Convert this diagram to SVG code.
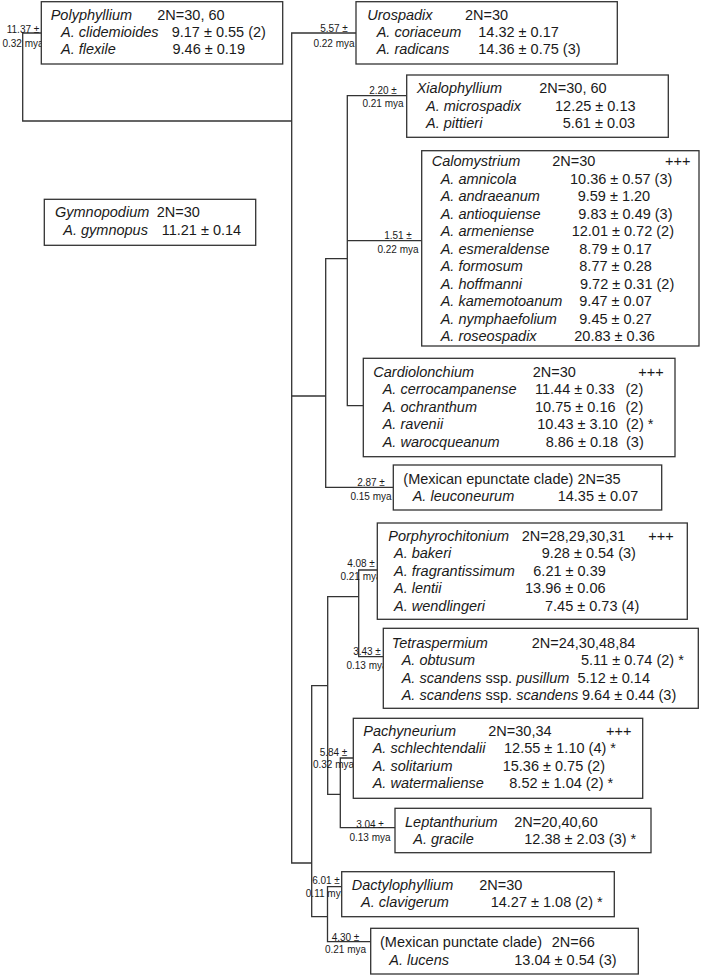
<svg xmlns="http://www.w3.org/2000/svg" width="702" height="976" viewBox="0 0 702 976">
<style>
.bg{fill:#fff}
.box{fill:#fff;stroke:#333;stroke-width:1.3}
.ln{fill:none;stroke:#333;stroke-width:1.3}
text{font-family:"Liberation Sans",Arial,sans-serif;fill:#1a1a1a}
.i{font-size:14.5px;font-style:italic}
.r{font-size:14.5px}
.lab{font-size:10px;text-anchor:middle}
.n{font-style:normal}
</style>
<rect class="bg" x="0" y="0" width="702" height="976"/>
<g id="connectors">
<path class="ln" d="M41.3,33H22.7V121H291.7"/>
<path class="ln" d="M356,33H291.7V863H311.7"/>
<path class="ln" d="M291.7,396H325.7"/>
<path class="ln" d="M347.3,258.7H325.7V487.3H393.3"/>
<path class="ln" d="M406.7,95.7H347.3V405.7H363.3"/>
<path class="ln" d="M347.3,240.7H421.7"/>
<path class="ln" d="M327.7,685.7H311.7V916.7H327.5"/>
<path class="ln" d="M358.7,596.7H327.7V794.3H340.3"/>
<path class="ln" d="M377.3,570H358.7V656.7H383.3"/>
<path class="ln" d="M353.3,758H340.3V827.7H395"/>
<path class="ln" d="M341.7,886.7H327.5V941.7H370.7"/>
</g>
<g id="labels">
<text class="lab" x="23" y="33">11.37 ±</text><text class="lab" x="23" y="47">0.32 mya</text>
<text class="lab" x="334" y="32">5.57 ±</text><text class="lab" x="334" y="47">0.22 mya</text>
<text class="lab" x="383" y="94">2.20 ±</text><text class="lab" x="383" y="107">0.21 mya</text>
<text class="lab" x="398" y="239">1.51 ±</text><text class="lab" x="398" y="253">0.22 mya</text>
<text class="lab" x="371" y="485.5">2.87 ±</text><text class="lab" x="371" y="500">0.15 mya</text>
<text class="lab" x="361" y="567">4.08 ±</text><text class="lab" x="361" y="580">0.21 mya</text>
<text class="lab" x="367" y="655">3.43 ±</text><text class="lab" x="367" y="669">0.13 mya</text>
<text class="lab" x="333.5" y="756">5.84 ±</text><text class="lab" x="333.5" y="768">0.32 mya</text>
<text class="lab" x="370" y="828">3.04 ±</text><text class="lab" x="370" y="840.5">0.13 mya</text>
<text class="lab" x="326" y="884">6.01 ±</text><text class="lab" x="326" y="897">0.11 mya</text>
<text class="lab" x="345.5" y="940.5">4.30 ±</text><text class="lab" x="345.5" y="953">0.21 mya</text>
</g>
<g id="polyphyllium">
<rect class="box" x="41.3" y="1.7" width="241.4" height="62.3"/>
<text class="i" x="50.7" y="20">Polyphyllium</text><text class="r" x="157.3" y="20">2N=30, 60</text>
<text class="i" x="61" y="37.3">A. clidemioides</text><text class="r" x="171.7" y="37.3">9.17 ± 0.55 (2)</text>
<text class="i" x="61" y="54.3">A. flexile</text><text class="r" x="172.5" y="54.3">9.46 ± 0.19</text>
</g>
<g id="urospadix">
<rect class="box" x="356" y="1.7" width="261.3" height="62.3"/>
<text class="i" x="367.3" y="20">Urospadix</text><text class="r" x="465" y="20">2N=30</text>
<text class="i" x="376.7" y="37.3">A. coriaceum</text><text class="r" x="478.3" y="37.3">14.32 ± 0.17</text>
<text class="i" x="376.7" y="54.3">A. radicans</text><text class="r" x="478.3" y="54.3">14.36 ± 0.75 (3)</text>
</g>
<g id="xialophyllium">
<rect class="box" x="406.7" y="75" width="261.6" height="62.3"/>
<text class="i" x="416.7" y="93.3">Xialophyllium</text><text class="r" x="539.3" y="93.3">2N=30, 60</text>
<text class="i" x="426" y="110.7">A. microspadix</text><text class="r" x="555" y="110.7">12.25 ± 0.13</text>
<text class="i" x="426" y="128">A. pittieri</text><text class="r" x="562.7" y="128">5.61 ± 0.03</text>
</g>
<g id="gymnopodium">
<rect class="box" x="44.3" y="199.3" width="211.4" height="46"/>
<text class="i" x="55" y="216.7">Gymnopodium</text><text class="r" x="156.7" y="216.7">2N=30</text>
<text class="i" x="63.3" y="235">A. gymnopus</text><text class="r" x="161.7" y="235">11.21 ± 0.14</text>
</g>
<g id="calomystrium">
<rect class="box" x="421.7" y="150.7" width="277.3" height="195.3"/>
<text class="i" x="431.7" y="166">Calomystrium</text><text class="r" x="552.3" y="166">2N=30</text><text class="r" x="665" y="166">+++</text>
<text class="i" x="440.7" y="183.5">A. amnicola</text><text class="r" x="570" y="183.5">10.36 ± 0.57 (3)</text>
<text class="i" x="440.7" y="201">A. andraeanum</text><text class="r" x="577.7" y="201">9.59 ± 1.20</text>
<text class="i" x="440.7" y="218.5">A. antioquiense</text><text class="r" x="578.3" y="218.5">9.83 ± 0.49 (3)</text>
<text class="i" x="440.7" y="236">A. armeniense</text><text class="r" x="571.7" y="236">12.01 ± 0.72 (2)</text>
<text class="i" x="440.7" y="253.5">A. esmeraldense</text><text class="r" x="579.3" y="253.5">8.79 ± 0.17</text>
<text class="i" x="440.7" y="271">A. formosum</text><text class="r" x="579.3" y="271">8.77 ± 0.28</text>
<text class="i" x="440.7" y="288.5">A. hoffmanni</text><text class="r" x="580" y="288.5">9.72 ± 0.31 (2)</text>
<text class="i" x="440.7" y="306">A. kamemotoanum</text><text class="r" x="579.3" y="306">9.47 ± 0.07</text>
<text class="i" x="440.7" y="323.5">A. nymphaefolium</text><text class="r" x="579.3" y="323.5">9.45 ± 0.27</text>
<text class="i" x="440.7" y="341">A. roseospadix</text><text class="r" x="574.3" y="341">20.83 ± 0.36</text>
</g>
<g id="cardiolonchium">
<rect class="box" x="363.3" y="358.3" width="311.7" height="98.4"/>
<text class="i" x="373.3" y="376.7">Cardiolonchium</text><text class="r" x="532.7" y="376.7">2N=30</text><text class="r" x="638.3" y="376.7">+++</text>
<text class="i" x="382.7" y="394.2">A. cerrocampanense</text><text class="r" x="535" y="394.2">11.44 ± 0.33</text><text class="r" x="625.5" y="394.2">(2)</text>
<text class="i" x="382.7" y="411.7">A. ochranthum</text><text class="r" x="535" y="411.7">10.75 ± 0.16</text><text class="r" x="625.5" y="411.7">(2)</text>
<text class="i" x="382.7" y="429.2">A. ravenii</text><text class="r" x="537.3" y="429.2">10.43 ± 3.10</text><text class="r" x="626" y="429.2">(2) *</text>
<text class="i" x="382.7" y="446.7">A. warocqueanum</text><text class="r" x="545.7" y="446.7">8.86 ± 0.18</text><text class="r" x="626" y="446.7">(3)</text>
</g>
<g id="mexican-epunctate">
<rect class="box" x="393.3" y="465" width="268.4" height="45"/>
<text class="r" x="403.3" y="484.3">(Mexican epunctate clade) 2N=35</text>
<text class="i" x="412.7" y="501">A. leuconeurum</text><text class="r" x="557.7" y="501">14.35 ± 0.07</text>
</g>
<g id="porphyrochitonium">
<rect class="box" x="377.3" y="523" width="310" height="96.3"/>
<text class="i" x="388.3" y="540.7">Porphyrochitonium</text><text class="r" x="521.7" y="540.7">2N=28,29,30,31</text><text class="r" x="648.3" y="540.7">+++</text>
<text class="i" x="394" y="558.2">A. bakeri</text><text class="r" x="541.7" y="558.2">9.28 ± 0.54 (3)</text>
<text class="i" x="394" y="575.7">A. fragrantissimum</text><text class="r" x="533.3" y="575.7">6.21 ± 0.39</text>
<text class="i" x="394" y="593.1">A. lentii</text><text class="r" x="525" y="593.1">13.96 ± 0.06</text>
<text class="i" x="394" y="610.5">A. wendlingeri</text><text class="r" x="545" y="610.5">7.45 ± 0.73 (4)</text>
</g>
<g id="tetraspermium">
<rect class="box" x="383.3" y="628.3" width="315" height="80"/>
<text class="i" x="391.7" y="647.7">Tetraspermium</text><text class="r" x="531.7" y="647.7">2N=24,30,48,84</text>
<text class="i" x="401.7" y="665.2">A. obtusum</text><text class="r" x="581" y="665.2">5.11 ± 0.74 (2) *</text>
<text class="i" x="401.7" y="682.5">A. scandens<tspan class="n"> ssp. </tspan>pusillum</text><text class="r" x="577.5" y="682.5">5.12 ± 0.14</text>
<text class="i" x="401.7" y="700">A. scandens<tspan class="n"> ssp. </tspan>scandens</text><text class="r" x="582" y="700">9.64 ± 0.44 (3)</text>
</g>
<g id="pachyneurium">
<rect class="box" x="353.3" y="718.3" width="289.4" height="80"/>
<text class="i" x="363.3" y="736">Pachyneurium</text><text class="r" x="488.3" y="736">2N=30,34</text><text class="r" x="606" y="736">+++</text>
<text class="i" x="372.7" y="753.3">A. schlechtendalii</text><text class="r" x="504" y="753.3">12.55 ± 1.10 (4) *</text>
<text class="i" x="372.7" y="770.8">A. solitarium</text><text class="r" x="502.7" y="770.8">15.36 ± 0.75 (2)</text>
<text class="i" x="372.7" y="788.3">A. watermaliense</text><text class="r" x="509.3" y="788.3">8.52 ± 1.04 (2) *</text>
</g>
<g id="leptanthurium">
<rect class="box" x="395" y="808.3" width="256" height="44.4"/>
<text class="i" x="405" y="826.7">Leptanthurium</text><text class="r" x="514.3" y="826.7">2N=20,40,60</text>
<text class="i" x="413.3" y="844">A. gracile</text><text class="r" x="524.3" y="844">12.38 ± 2.03 (3) *</text>
</g>
<g id="dactylophyllium">
<rect class="box" x="341.7" y="871.7" width="272.6" height="45"/>
<text class="i" x="351.7" y="890">Dactylophyllium</text><text class="r" x="479.3" y="890">2N=30</text>
<text class="i" x="361" y="907.3">A. clavigerum</text><text class="r" x="490.7" y="907.3">14.27 ± 1.08 (2) *</text>
</g>
<g id="mexican-punctate">
<rect class="box" x="370.7" y="928.3" width="267.6" height="45.7"/>
<text class="r" x="380" y="947.3">(Mexican punctate clade)</text><text class="r" x="551.7" y="947.3">2N=66</text>
<text class="i" x="389.3" y="965">A. lucens</text><text class="r" x="514.3" y="965">13.04 ± 0.54 (3)</text>
</g>
</svg>
